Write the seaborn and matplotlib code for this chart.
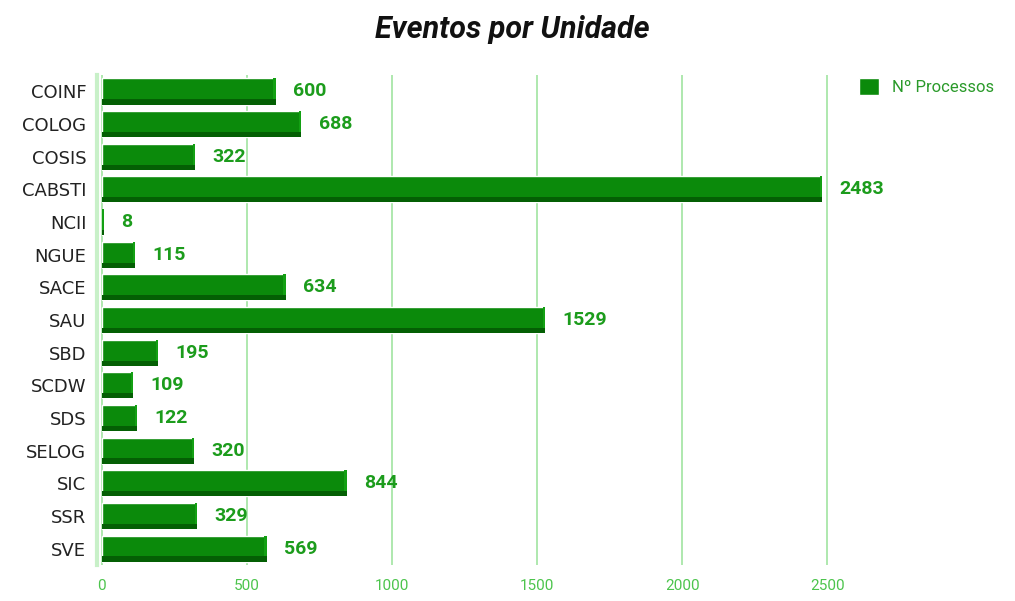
import matplotlib
matplotlib.use("Agg")
import matplotlib.pyplot as plt
from matplotlib.patches import Rectangle
import seaborn as sns
import pandas as pd

units = ["COINF", "COLOG", "COSIS", "CABSTI", "NCII", "NGUE", "SACE", "SAU",
         "SBD", "SCDW", "SDS", "SELOG", "SIC", "SSR", "SVE"]
processos = [600, 688, 322, 2483, 8, 115, 634, 1529, 195, 109, 122, 320, 844, 329, 569]
x_ticks = [0, 500, 1000, 1500, 2000, 2500]
series_name = "Nº Processos"
title = "Eventos por Unidade"

df = pd.DataFrame({"Unidade": units, "Processos": processos})

sns.set_theme(style="white")
plt.rcParams["font.family"] = ["Roboto", "DejaVu Sans"]

BAR = "#0b8a0b"
SHADOW = "#045f04"
LABEL = "#1c9c1c"
GRID = "#a8e6a8"

fig = plt.figure(figsize=(10.15, 6.01), dpi=100)
ax = fig.add_axes([0.096, 0.06, 0.732, 0.815])

sns.barplot(data=df, y="Unidade", x="Processos", orient="h", color=BAR,
            width=0.8, ax=ax, saturation=1, label=series_name)

# 3D-like shadow on the lower part of each bar
for p in list(ax.patches):
    x0, y0 = p.get_x(), p.get_y()
    w, h = p.get_width(), p.get_height()
    ax.add_patch(Rectangle((x0, y0 + h * 0.8), w, h * 0.2, color=SHADOW, zorder=p.get_zorder() + 0.1, lw=0))
    ax.add_patch(Rectangle((x0 + w - 8, y0), 8, h * 0.8, color="#13a013", zorder=p.get_zorder() + 0.05, lw=0))

ax.set_xlim(-14, 2545)
ax.set_xticks(x_ticks)
ax.set_xticklabels([str(t) for t in x_ticks], color="#4cc44c", fontsize=11)
ax.xaxis.grid(True, color=GRID, lw=1.3)
ax.set_axisbelow(True)
ax.set_xlabel("")
ax.set_ylabel("")
ax.tick_params(axis="y", length=0, pad=8)
for lbl in ax.get_yticklabels():
    lbl.set_fontfamily(["DejaVu Sans"])
    lbl.set_fontsize(13)
    lbl.set_color("#222222")
ax.tick_params(axis="x", length=0, pad=10)
for s in ["top", "right", "bottom"]:
    ax.spines[s].set_visible(False)
ax.spines["left"].set_color("#c8f0c8")
ax.spines["left"].set_linewidth(3)

for i, v in enumerate(processos):
    ax.text(v + 60, i, str(v), va="center", ha="left", color=LABEL,
            fontsize=14, fontweight="bold")

fig.suptitle(title, x=0.505, y=0.975, fontsize=22, fontweight="bold",
             fontstyle="italic", color="#111111")

leg = ax.legend(loc="upper left", bbox_to_anchor=(1.005, 1.025), frameon=False,
                fontsize=12, handlelength=1.2, handleheight=1.2, handletextpad=0.8)
for t in leg.get_texts():
    t.set_color("#2a9a2a")

fig.savefig("out.png", dpi=100)
